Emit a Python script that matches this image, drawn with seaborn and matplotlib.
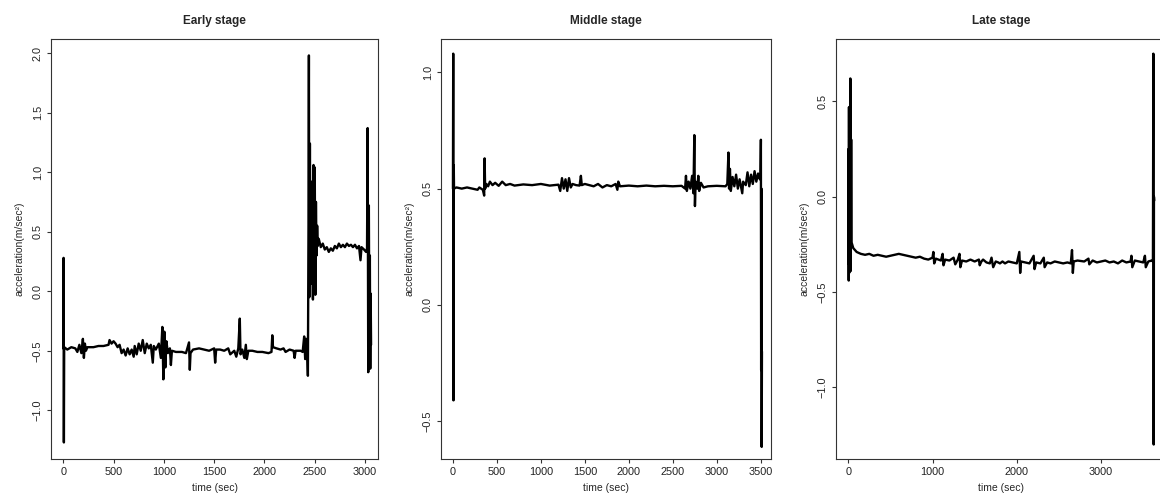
import matplotlib
matplotlib.use('Agg')
import matplotlib.pyplot as plt
import seaborn as sns
import numpy as np

# Early stage: time (sec) and acceleration (m/sec^2)
early_t = [0, 3, 6, 9, 40, 80, 120, 140, 160, 180, 195, 205, 215, 225, 240, 300, 350, 400, 450,
           460, 480, 500, 520, 540, 560, 580, 600, 620, 640, 660, 680, 700, 710, 730, 750, 770,
           790, 810, 830, 850, 870, 890, 900, 920, 950, 970, 985, 995, 1005, 1015, 1025, 1040,
           1060, 1070, 1080, 1120, 1180, 1220, 1250, 1258, 1265, 1290, 1350, 1400, 1450, 1500,
           1510, 1520, 1560, 1600, 1640, 1660, 1700, 1720, 1740, 1755, 1762, 1780, 1800, 1815,
           1825, 1840, 1880, 1930, 1980, 2040, 2070, 2078, 2085, 2120, 2160, 2190, 2210, 2250,
           2290, 2300, 2310, 2360, 2380, 2395, 2405, 2415, 2425, 2432, 2438, 2442, 2446, 2452,
           2458, 2464, 2470, 2476, 2482, 2488, 2494, 2500, 2506, 2512, 2518, 2524, 2530, 2540,
           2560, 2580, 2600, 2620, 2640, 2660, 2680, 2700, 2720, 2740, 2760, 2780, 2800, 2820,
           2840, 2860, 2880, 2900, 2920, 2940, 2955, 2965, 2990, 3010, 3020, 3026, 3032, 3038,
           3044, 3048, 3052, 3056, 3060]
early_a = [-0.48, 0.28, -1.27, -0.47, -0.49, -0.47, -0.48, -0.51, -0.45, -0.52, -0.40, -0.56,
           -0.44, -0.50, -0.47, -0.47, -0.46, -0.46, -0.45, -0.41, -0.44, -0.42, -0.44, -0.47,
           -0.45, -0.52, -0.49, -0.54, -0.48, -0.53, -0.49, -0.55, -0.46, -0.53, -0.44, -0.50,
           -0.41, -0.52, -0.44, -0.48, -0.45, -0.60, -0.46, -0.49, -0.44, -0.56, -0.30, -0.74,
           -0.34, -0.64, -0.42, -0.52, -0.48, -0.62, -0.50, -0.51, -0.51, -0.52, -0.43, -0.66,
           -0.52, -0.49, -0.48, -0.49, -0.50, -0.48, -0.60, -0.49, -0.49, -0.50, -0.48, -0.53,
           -0.50, -0.55, -0.48, -0.23, -0.53, -0.49, -0.56, -0.45, -0.57, -0.50, -0.50, -0.51,
           -0.51, -0.52, -0.51, -0.37, -0.47, -0.48, -0.49, -0.48, -0.51, -0.49, -0.50, -0.56,
           -0.50, -0.50, -0.51, -0.38, -0.57, -0.40, -0.48, -0.71, 0.56, 1.98, -0.05, 1.24,
           0.06, 0.92, 0.25, 0.80, -0.07, 1.06, 0.12, 1.04, -0.03, 0.75, 0.30, 0.55, 0.38, 0.44,
           0.37, 0.40, 0.35, 0.37, 0.33, 0.36, 0.34, 0.38, 0.36, 0.40, 0.37, 0.39, 0.37, 0.40,
           0.38, 0.39, 0.37, 0.39, 0.36, 0.38, 0.26, 0.37, 0.35, 0.33, 0.36, 1.37, -0.68, 0.72,
           -0.60, 0.30, -0.65, -0.02, -0.45]

# Middle stage
middle_t = [0, 3, 6, 9, 12, 40, 100, 160, 220, 280, 300, 340, 355, 360, 366, 380, 400, 420,
            450, 480, 520, 560, 600, 650, 700, 800, 900, 1000, 1100, 1200, 1220, 1240, 1260,
            1280, 1300, 1320, 1340, 1360, 1400, 1440, 1455, 1465, 1500, 1550, 1600, 1650, 1700,
            1750, 1800, 1850, 1870, 1880, 1900, 2000, 2100, 2200, 2300, 2400, 2500, 2600, 2640,
            2650, 2660, 2680, 2700, 2720, 2735, 2745, 2752, 2760, 2780, 2790, 2800, 2820, 2850,
            2900, 3000, 3100, 3120, 3133, 3140, 3150, 3160, 3180, 3200, 3220, 3240, 3260, 3290,
            3300, 3330, 3350, 3370, 3390, 3410, 3430, 3450, 3470, 3490, 3498, 3502, 3505, 3508,
            3511, 3514]
middle_a = [0.50, 1.08, -0.41, 0.60, 0.50, 0.505, 0.50, 0.505, 0.50, 0.495, 0.505, 0.495, 0.47,
            0.63, 0.50, 0.52, 0.51, 0.53, 0.515, 0.525, 0.512, 0.53, 0.515, 0.52, 0.513, 0.518,
            0.515, 0.52, 0.513, 0.517, 0.49, 0.545, 0.50, 0.54, 0.49, 0.545, 0.505, 0.52, 0.515,
            0.513, 0.555, 0.515, 0.52, 0.515, 0.51, 0.52, 0.505, 0.515, 0.51, 0.52, 0.495, 0.53,
            0.51, 0.513, 0.51, 0.513, 0.51, 0.512, 0.51, 0.512, 0.50, 0.555, 0.49, 0.53, 0.50,
            0.555, 0.48, 0.73, 0.425, 0.53, 0.50, 0.555, 0.49, 0.525, 0.505, 0.51, 0.512, 0.51,
            0.52, 0.655, 0.50, 0.585, 0.49, 0.55, 0.51, 0.56, 0.50, 0.54, 0.48, 0.53, 0.515,
            0.57, 0.51, 0.56, 0.52, 0.575, 0.53, 0.565, 0.54, 0.55, 0.71, -0.28, 0.50, -0.61,
            -0.20]

# Late stage
late_t = [0, 3, 6, 9, 12, 15, 20, 25, 30, 35, 40, 60, 100, 150, 200, 250, 300, 350, 400, 450,
          500, 550, 600, 650, 700, 750, 800, 850, 900, 950, 1000, 1010, 1020, 1040, 1100, 1120,
          1130, 1150, 1200, 1250, 1270, 1300, 1320, 1330, 1350, 1400, 1450, 1500, 1550, 1560,
          1580, 1600, 1640, 1680, 1700, 1720, 1750, 1780, 1800, 1830, 1860, 1900, 1950, 2000,
          2030, 2040, 2050, 2100, 2150, 2200, 2210, 2230, 2280, 2320, 2330, 2360, 2400, 2450,
          2500, 2550, 2600, 2640, 2655, 2665, 2675, 2720, 2800, 2850, 2860, 2900, 2950, 3000,
          3050, 3100, 3150, 3200, 3250, 3300, 3350, 3360, 3370, 3400, 3450, 3500, 3520, 3530,
          3560, 3600, 3615, 3620, 3624, 3627, 3630]
late_a = [-0.35, 0.25, -0.44, 0.47, -0.40, 0.40, -0.38, 0.62, -0.39, 0.30, -0.24, -0.27, -0.29,
          -0.30, -0.305, -0.30, -0.31, -0.305, -0.31, -0.315, -0.31, -0.305, -0.30, -0.305,
          -0.31, -0.315, -0.32, -0.315, -0.325, -0.33, -0.32, -0.29, -0.35, -0.325, -0.335,
          -0.30, -0.36, -0.33, -0.335, -0.32, -0.355, -0.33, -0.30, -0.37, -0.335, -0.34, -0.33,
          -0.34, -0.33, -0.36, -0.34, -0.33, -0.345, -0.35, -0.32, -0.37, -0.34, -0.345, -0.35,
          -0.34, -0.35, -0.34, -0.345, -0.35, -0.29, -0.40, -0.34, -0.345, -0.35, -0.31, -0.38,
          -0.345, -0.35, -0.32, -0.37, -0.345, -0.35, -0.34, -0.345, -0.35, -0.345, -0.35,
          -0.28, -0.40, -0.34, -0.335, -0.34, -0.325, -0.355, -0.335, -0.345, -0.34, -0.335,
          -0.345, -0.34, -0.35, -0.335, -0.345, -0.34, -0.31, -0.37, -0.335, -0.34, -0.345,
          -0.31, -0.37, -0.34, -0.335, -0.34, 0.75, -1.30, 0.0, -0.02]

titles = ['Early stage', 'Middle stage', 'Late stage']
xticks = [np.arange(0, 3001, 500), np.arange(0, 3501, 500), [0, 1000, 2000, 3000]]
yticks = [[-1.0, -0.5, 0.0, 0.5, 1.0, 1.5, 2.0], [-0.5, 0.0, 0.5, 1.0], [-1.0, -0.5, 0.0, 0.5]]
xlims = [(-122, 3129), (-136, 3617), (-145, 3770)]
ylims = [(-1.409, 2.118), (-0.662, 1.143), (-1.376, 0.827)]

sns.set_style('ticks')
plt.rcParams['font.family'] = ['Liberation Sans', 'DejaVu Sans']

fig = plt.figure(figsize=(11.6, 4.96), dpi=100)
lefts = [51, 441, 836]
widths = [327, 330, 330]
series = [(early_t, early_a), (middle_t, middle_a), (late_t, late_a)]

for i, (t, a) in enumerate(series):
    ax = fig.add_axes([lefts[i] / 1160, 37 / 496, widths[i] / 1160, 420 / 496])
    sns.lineplot(x=t, y=a, ax=ax, sort=False, estimator=None, color='black', linewidth=1.7)
    ax.set_xlim(*xlims[i])
    ax.set_ylim(*ylims[i])
    ax.set_xticks(xticks[i])
    ax.set_yticks(yticks[i])
    ax.set_yticklabels([f'{v:.1f}'.replace('-', '\u2212') for v in yticks[i]],
                       rotation=90, va='center')
    ax.set_title(titles[i], fontsize=8.5, fontweight='bold', pad=11)
    ax.set_xlabel('time (sec)', fontsize=7.5, labelpad=4)
    ax.set_ylabel('acceleration(m/sec²)', fontsize=7.5, labelpad=6)
    ax.tick_params(labelsize=7.8, length=3, width=0.8, pad=3, color='#333333', labelcolor='#222222')
    for sp in ax.spines.values():
        sp.set_visible(True)
        sp.set_color('#333333')
        sp.set_linewidth(0.8)

fig.savefig('out.png', dpi=100)
